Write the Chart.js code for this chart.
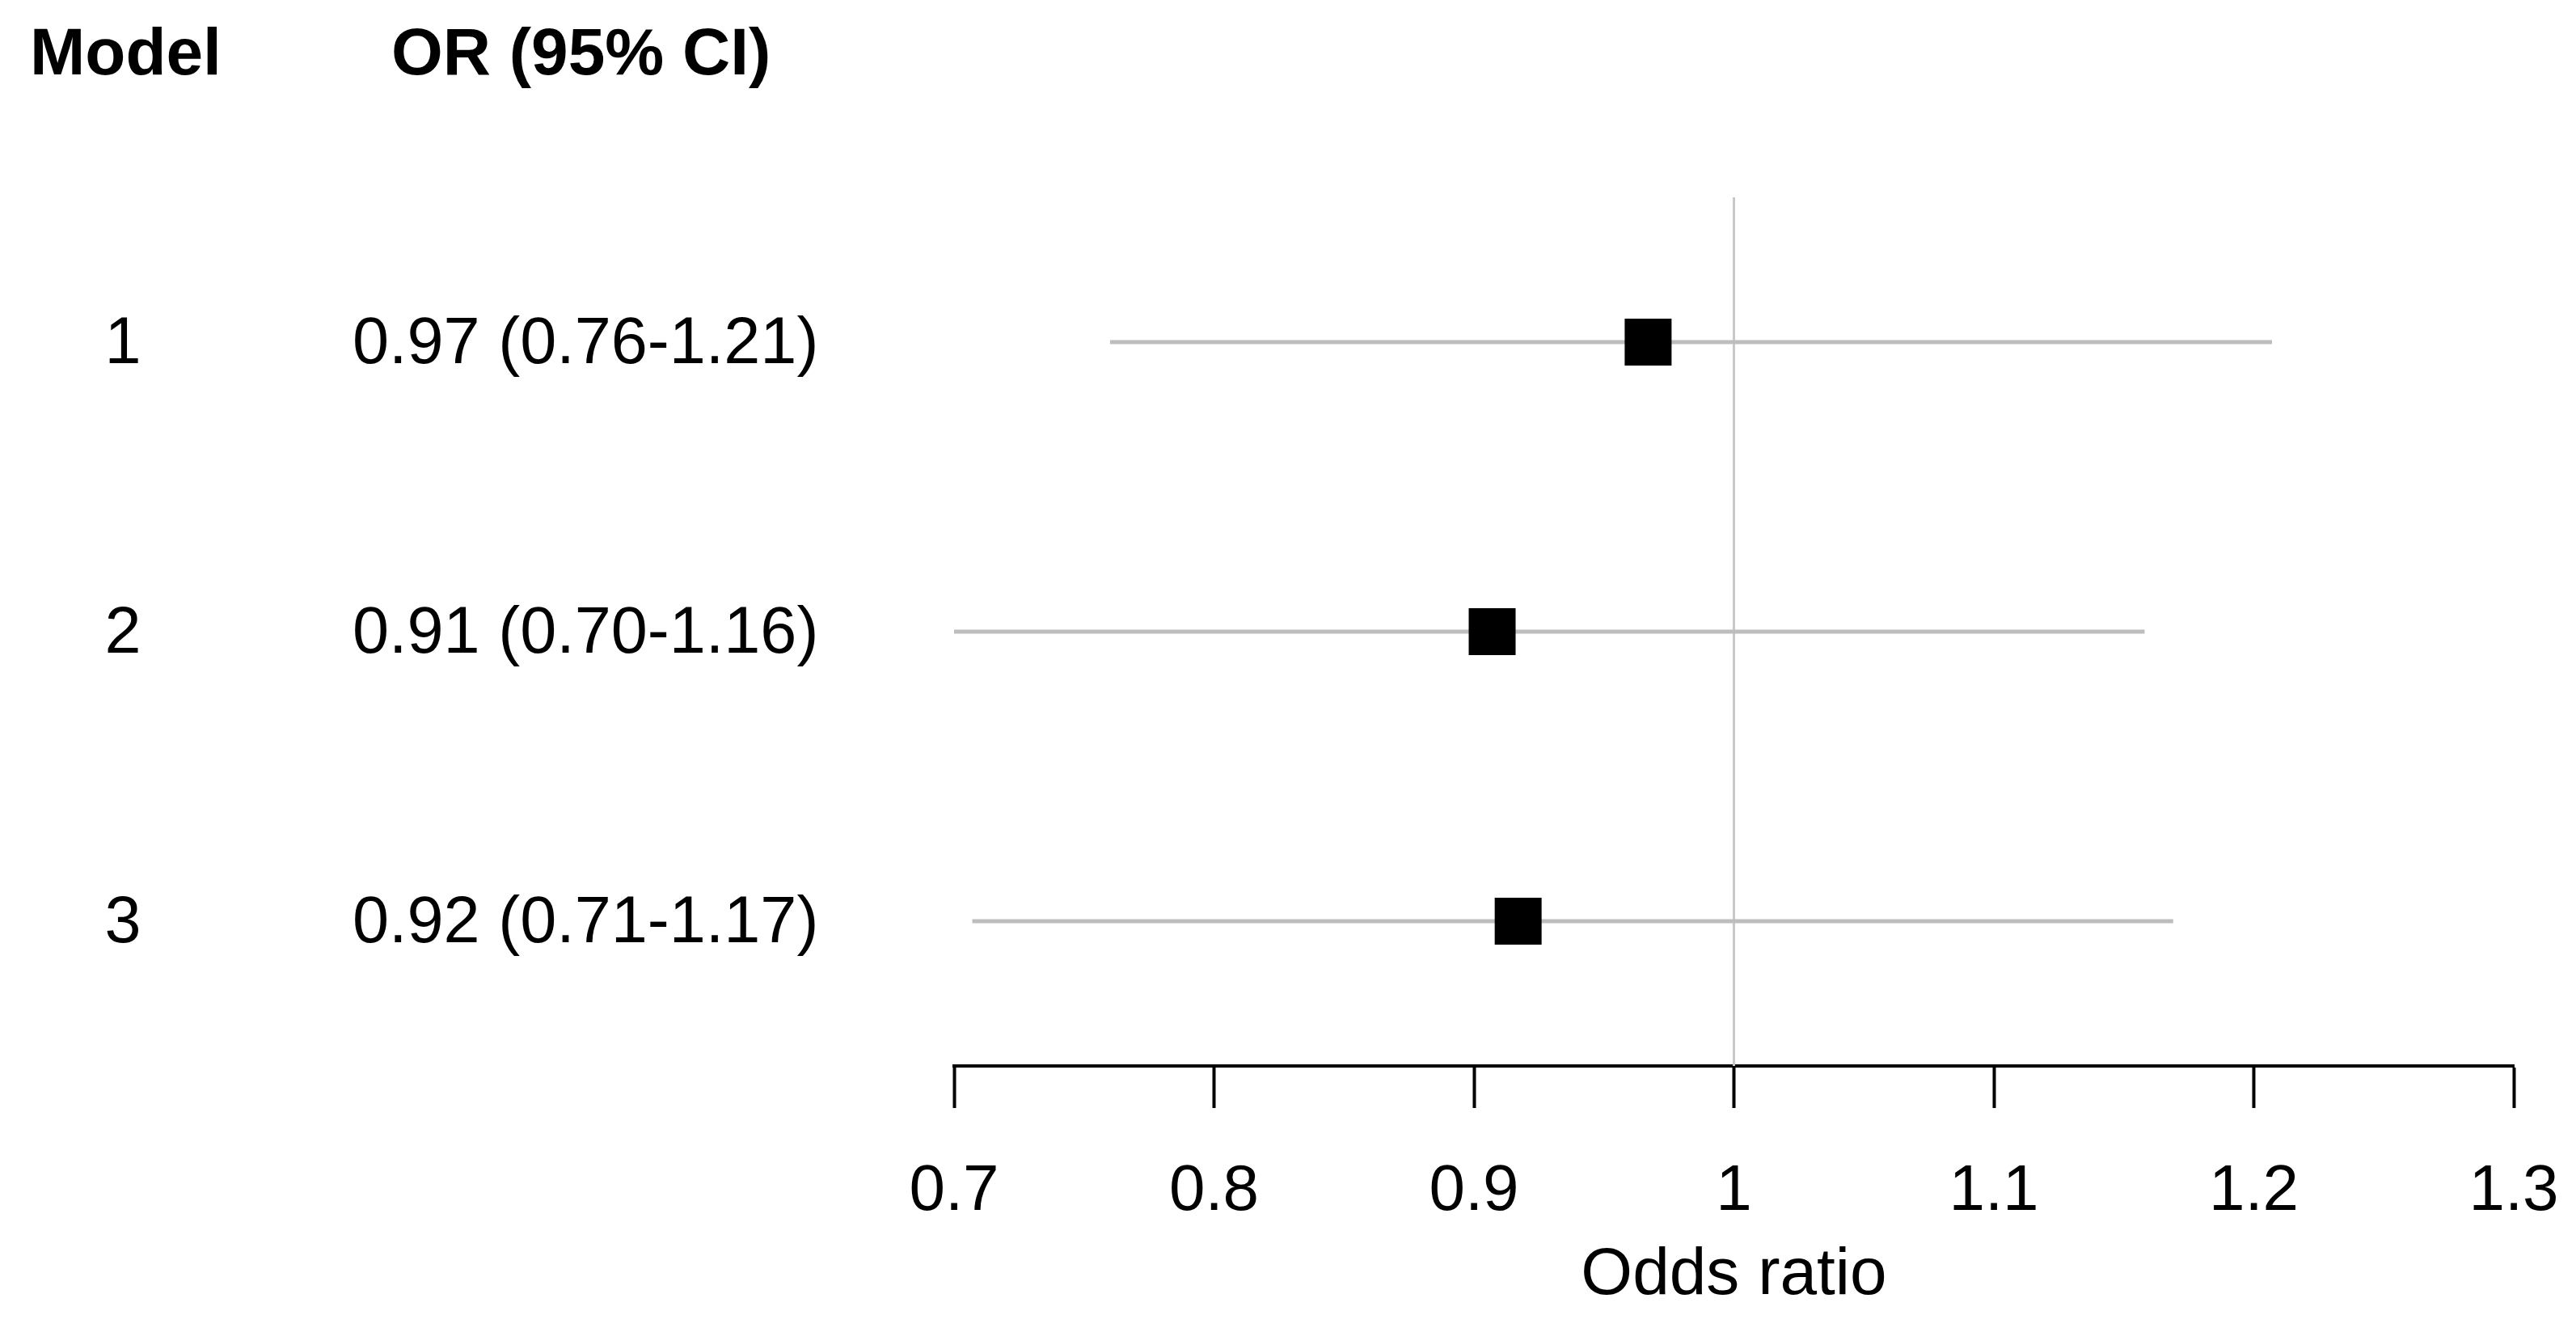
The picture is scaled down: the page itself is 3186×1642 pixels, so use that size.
<!DOCTYPE html>
<html>
<head>
<meta charset="utf-8">
<script src="https://cdn.jsdelivr.net/npm/chart.js@4.4.1/dist/chart.umd.min.js"></script>
<style>
  html, body { margin: 0; padding: 0; background: #ffffff; }
  #wrap { width: 3186px; height: 1642px; }
</style>
</head>
<body>
<div id="wrap"><canvas id="c" width="3186" height="1642"></canvas></div>
<script>
// ---- Data ----
const models = ['1', '2', '3'];
const orValues = [0.967, 0.907, 0.917];
const ciLower = [0.760, 0.700, 0.707];
const ciUpper = [1.207, 1.158, 1.169];
const tickValues = [0.7, 0.8, 0.9, 1.0, 1.1, 1.2, 1.3];
const tickLabels = ['0.7', '0.8', '0.9', '1', '1.1', '1.2', '1.3'];
const referenceValue = 1;
const headerLabels = ['Model', 'OR (95% CI)'];
const axisTitle = 'Odds ratio';

const FONT = "'Liberation Sans', Arial, Helvetica, sans-serif";
const orLabels = orValues.map((v, i) =>
  v.toFixed(2) + ' (' + ciLower[i].toFixed(2) + '-' + ciUpper[i].toFixed(2) + ')');

const rowY = models.map((m, i) => i + 1);

const datasets = [];
// point estimates (squares)
datasets.push({
  type: 'scatter',
  data: orValues.map((v, i) => ({ x: v, y: rowY[i] })),
  pointStyle: 'rect',
  pointRadius: 41,
  pointHoverRadius: 41,
  backgroundColor: '#000000',
  borderColor: '#000000',
  borderWidth: 0,
  order: 0,
  clip: false
});
// confidence intervals
models.forEach((m, i) => {
  datasets.push({
    type: 'line',
    data: [{ x: ciLower[i], y: rowY[i] }, { x: ciUpper[i], y: rowY[i] }],
    borderColor: '#bdbdbd',
    borderWidth: 5,
    pointRadius: 0,
    fill: false,
    order: 1
  });
});
// reference line at OR = 1
datasets.push({
  type: 'line',
  data: [{ x: referenceValue, y: 0.5 }, { x: referenceValue, y: 3.5 }],
  borderColor: '#c8c8c8',
  borderWidth: 3,
  pointRadius: 0,
  fill: false,
  order: 2
});

const labelPlugin = {
  id: 'forestLabels',
  afterDraw(chart) {
    const ctx = chart.ctx;
    const ys = chart.scales.y;
    ctx.save();
    ctx.fillStyle = '#000000';
    ctx.textBaseline = 'middle';
    // headers
    ctx.font = 'bold 82px ' + FONT;
    ctx.textAlign = 'left';
    ctx.fillText(headerLabels[0], 37, 69);
    ctx.fillText(headerLabels[1], 484, 69);
    // rows
    ctx.font = '81px ' + FONT;
    models.forEach((m, i) => {
      const y = ys.getPixelForValue(rowY[i]) + 4;
      ctx.textAlign = 'center';
      ctx.fillText(m, 152, y);
      ctx.textAlign = 'left';
      ctx.fillText(orLabels[i], 436, y);
    });
    ctx.restore();
  }
};

new Chart(document.getElementById('c'), {
  type: 'scatter',
  data: { datasets },
  options: {
    responsive: false,
    devicePixelRatio: 1,
    animation: false,
    events: [],
    layout: { padding: { left: 1180, right: 77, top: 244, bottom: 0 } },
    plugins: { legend: { display: false }, tooltip: { enabled: false }, title: { display: false } },
    scales: {
      x: {
        type: 'linear',
        position: 'bottom',
        min: 0.7,
        max: 1.3,
        afterBuildTicks(scale) { scale.ticks = tickValues.map(v => ({ value: v })); },
        afterFit(scale) {
          scale.height = 324;
          scale.paddingLeft = 0;
          scale.paddingRight = 0;
        },
        ticks: {
          autoSkip: false,
          maxRotation: 0,
          padding: 56,
          color: '#000000',
          font: { family: FONT, size: 80 },
          callback: (v, idx) => tickLabels[idx]
        },
        grid: {
          drawOnChartArea: false,
          drawTicks: true,
          tickLength: 52,
          tickWidth: 4,
          tickColor: '#000000'
        },
        border: { display: true, color: '#000000', width: 4 },
        title: {
          display: true,
          text: axisTitle,
          color: '#000000',
          font: { family: FONT, size: 82 },
          padding: { top: 0, bottom: 15 }
        }
      },
      y: {
        type: 'linear',
        display: false,
        min: 0.5,
        max: 3.5,
        reverse: true
      }
    }
  },
  plugins: [labelPlugin]
});
</script>
</body>
</html>
